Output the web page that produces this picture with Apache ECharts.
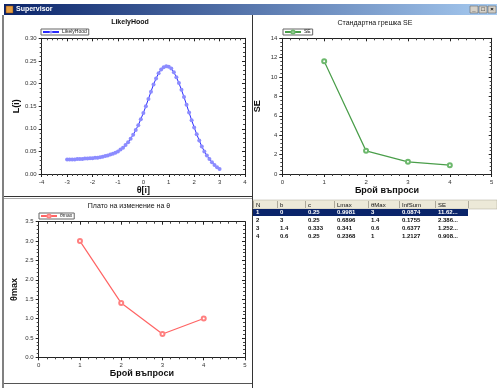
<!DOCTYPE html>
<html>
<head>
<meta charset="utf-8">
<script src="https://cdn.jsdelivr.net/npm/echarts@6/dist/echarts.min.js"></script>
<style>
  html, body { margin: 0; padding: 0; background: #fff; }
  #main { width: 497px; height: 388px; }
</style>
</head>
<body>
<div id="main"></div>
<script>
// LikelyHood curve: theta and L(i)
const thetaVals = [-3.0, -2.9, -2.8, -2.7, -2.6, -2.5, -2.4, -2.3, -2.2, -2.1,
  -2.0, -1.9, -1.8, -1.7, -1.6, -1.5, -1.4, -1.3, -1.2, -1.1,
  -1.0, -0.9, -0.8, -0.7, -0.6, -0.5, -0.4, -0.3, -0.2, -0.1,
  0.0, 0.1, 0.2, 0.3, 0.4, 0.5, 0.6, 0.7, 0.8, 0.9,
  1.0, 1.1, 1.2, 1.3, 1.4, 1.5, 1.6, 1.7, 1.8, 1.9,
  2.0, 2.1, 2.2, 2.3, 2.4, 2.5, 2.6, 2.7, 2.8, 2.9, 3.0];
const likelyVals = [0.032, 0.032, 0.032, 0.032, 0.033, 0.033, 0.033, 0.034, 0.034, 0.035,
  0.035, 0.036, 0.036, 0.037, 0.038, 0.040, 0.041, 0.043, 0.045, 0.047,
  0.050, 0.054, 0.058, 0.064, 0.070, 0.078, 0.087, 0.097, 0.108, 0.121,
  0.135, 0.150, 0.166, 0.182, 0.198, 0.211, 0.223, 0.231, 0.236, 0.238,
  0.237, 0.233, 0.225, 0.214, 0.201, 0.186, 0.170, 0.153, 0.136, 0.119,
  0.103, 0.088, 0.074, 0.061, 0.050, 0.041, 0.033, 0.026, 0.020, 0.015, 0.011];

// questions asked
const questions = [1, 2, 3, 4];
const seVals = [11.62, 2.386, 1.252, 0.908];
const thetaMaxVals = [3, 1.4, 0.6, 1];

// table
const tableCols = ['N', 'b', 'c', 'Lmax', 'θMax', 'InfSum', 'SE'];
const tableRows = [
  ['1', '0', '0.25', '0.9981', '3', '0.0874', '11.62...'],
  ['2', '3', '0.25', '0.6896', '1.4', '0.1755', '2.386...'],
  ['3', '1.4', '0.333', '0.341', '0.6', '0.6377', '1.252...'],
  ['4', '0.6', '0.25', '0.2368', '1', '1.2127', '0.908...']
];

const FONT = 'Liberation Sans, Arial, sans-serif';
const chart = echarts.init(document.getElementById('main'));

function zip(a, b) {
  return a.map((v, i) => [v, b[i]]);
}

const lineCol = '#222';

// bottom/left axes with labels, top/right copies with ticks only
function xAxes(grid, min, max, name) {
  const base = {
    gridIndex: grid, type: 'value', min: min, max: max, interval: 1,
    splitLine: { show: false },
    axisLine: { onZero: false, lineStyle: { color: lineCol, width: 1 } },
    axisTick: { length: 3, lineStyle: { color: lineCol } },
    minorTick: { show: true, splitNumber: 5, length: 2, lineStyle: { color: '#444' } }
  };
  return [
    Object.assign({}, base, {
      position: 'bottom',
      name: name, nameLocation: 'middle', nameGap: 11,
      nameTextStyle: { fontFamily: FONT, fontSize: 9, fontWeight: 'bold', color: '#111' },
      axisLabel: { fontFamily: FONT, fontSize: 6, color: '#333', margin: 5 }
    }),
    Object.assign({}, base, {
      position: 'top', axisLabel: { show: false },
      axisTick: { inside: true, length: 3, lineStyle: { color: lineCol } },
      minorTick: { show: true, splitNumber: 5, length: 2, lineStyle: { color: '#444' } }
    })
  ];
}

function yAxes(grid, min, max, interval, name, fmt) {
  const base = {
    gridIndex: grid, type: 'value', min: min, max: max, interval: interval,
    splitLine: { show: false },
    axisLine: { show: true, onZero: false, lineStyle: { color: lineCol, width: 1 } },
    axisTick: { show: true, length: 3, lineStyle: { color: lineCol } },
    minorTick: { show: true, splitNumber: 5, length: 2, lineStyle: { color: '#444' } }
  };
  return [
    Object.assign({}, base, {
      position: 'left',
      name: name, nameLocation: 'middle', nameGap: 20, nameRotate: 90,
      nameTextStyle: { fontFamily: FONT, fontSize: 9, fontWeight: 'bold', color: '#111' },
      axisLabel: { fontFamily: FONT, fontSize: 6, color: '#333', margin: 5, formatter: fmt }
    }),
    Object.assign({}, base, {
      position: 'right', axisLabel: { show: false },
      axisTick: { show: true, inside: true, length: 3, lineStyle: { color: lineCol } },
      minorTick: { show: true, splitNumber: 5, length: 2, lineStyle: { color: '#444' } }
    })
  ];
}

function legendBox(name, left, top) {
  return {
    data: [name], left: left, top: top,
    orient: 'horizontal', padding: [0, 2, 0, 1],
    borderColor: '#666', borderWidth: 1, borderRadius: 0,
    itemWidth: 16, itemHeight: 4, itemGap: 2,
    textStyle: { fontFamily: FONT, fontSize: 5, lineHeight: 6, color: '#222', padding: [0, 0, 0, -2] }
  };
}

function txt(text, x, y, size, weight, color, align) {
  return {
    type: 'text', x: x, y: y, silent: true,
    style: {
      text: text, fill: color || '#111', align: align || 'left', verticalAlign: 'middle',
      font: (weight || 'normal') + ' ' + size + 'px ' + FONT
    }
  };
}

// window chrome + table
const graphics = [];
graphics.push({ type: 'rect', shape: { x: 4, y: 4, width: 493, height: 11 },
  style: { fill: new echarts.graphic.LinearGradient(0, 0, 1, 0, [
    { offset: 0, color: '#0a246a' }, { offset: 1, color: '#a6caf0' }]) } });
graphics.push({ type: 'rect', shape: { x: 6, y: 6, width: 7, height: 7 },
  style: { fill: '#e8a040', stroke: '#804010', lineWidth: 0.5 } });
graphics.push(txt('Supervisor', 16, 9.5, 7, 'bold', '#fff'));
[470, 479, 488].forEach(function (bx, i) {
  graphics.push({ type: 'rect', shape: { x: bx, y: 6, width: 8, height: 7 },
    style: { fill: '#d4d0c8', stroke: '#555', lineWidth: 0.5 } });
  graphics.push(txt(['_', '□', '×'][i], bx + 4, 9.5, 6, 'bold', '#000', 'center'));
});
// frame and panel separators
graphics.push({ type: 'rect', shape: { x: 2, y: 15, width: 2, height: 373 }, style: { fill: '#808080' } });
graphics.push({ type: 'line', shape: { x1: 252.5, y1: 15, x2: 252.5, y2: 388 }, style: { stroke: '#333', lineWidth: 1 } });
graphics.push({ type: 'line', shape: { x1: 4, y1: 196.5, x2: 252, y2: 196.5 }, style: { stroke: '#333', lineWidth: 1 } });
graphics.push({ type: 'line', shape: { x1: 4, y1: 198.5, x2: 252, y2: 198.5 }, style: { stroke: '#aaa', lineWidth: 1 } });
graphics.push({ type: 'line', shape: { x1: 4, y1: 383.5, x2: 252, y2: 383.5 }, style: { stroke: '#555', lineWidth: 1 } });

// table
const colX = [253, 277, 305, 334, 368, 399, 435, 468];
graphics.push({ type: 'rect', shape: { x: 253, y: 200, width: 244, height: 9 },
  style: { fill: '#ece9d8', stroke: '#aca899', lineWidth: 0.5 } });
colX.forEach(function (cx) {
  graphics.push({ type: 'line', shape: { x1: cx + 0.5, y1: 201, x2: cx + 0.5, y2: 208 },
    style: { stroke: '#aca899', lineWidth: 1 } });
});
tableCols.forEach(function (c, i) {
  graphics.push(txt(c, colX[i] + 3, 205, 6, 'normal', '#111'));
});
graphics.push({ type: 'rect', shape: { x: 253, y: 209, width: 215, height: 7 },
  style: { fill: '#0a246a' } });
tableRows.forEach(function (row, r) {
  const y = 212.5 + r * 8;
  row.forEach(function (cell, i) {
    graphics.push(txt(cell, colX[i] + 3, y, 6, 'bold', r === 0 ? '#fff' : '#111'));
  });
});

// panel titles
graphics.push(txt('LikelyHood', 130, 22.5, 7, 'bold', '#111', 'center'));
graphics.push(txt('Стандартна грешка SE', 375, 23, 7, 'normal', '#111', 'center'));
graphics.push(txt('Плато на изменение на θ', 129, 206, 7, 'normal', '#111', 'center'));

const option = {
  backgroundColor: '#fff',
  animation: false,
  grid: [
    { left: 41.7, top: 38.3, width: 203.3, height: 135.7 },
    { left: 282.3, top: 38.3, width: 209.4, height: 135.7 },
    { left: 38.7, top: 221.7, width: 206.3, height: 135.6 }
  ],
  legend: [
    legendBox('LikelyHood', 41, 29),
    legendBox('SE', 283, 29),
    legendBox('θmax', 39, 213)
  ],
  xAxis: [].concat(
    xAxes(0, -4, 4, 'θ[i]'),
    xAxes(1, 0, 5, 'Брой въпроси'),
    xAxes(2, 0, 5, 'Брой въпроси')
  ),
  yAxis: [].concat(
    yAxes(0, 0, 0.30, 0.05, 'L(i)', v => v.toFixed(2)),
    yAxes(1, 0, 14, 2, 'SE', v => String(v)),
    yAxes(2, 0, 3.5, 0.5, 'θmax', v => v.toFixed(1))
  ),
  series: [
    {
      name: 'LikelyHood', type: 'line', xAxisIndex: 0, yAxisIndex: 0,
      data: zip(thetaVals, likelyVals),
      symbol: 'circle', symbolSize: 4, showAllSymbol: true,
      lineStyle: { color: '#2a2aff', width: 1 },
      itemStyle: { color: '#8c8cff' }
    },
    {
      name: 'SE', type: 'line', xAxisIndex: 2, yAxisIndex: 2,
      data: zip(questions, seVals),
      symbol: 'emptyCircle', symbolSize: 4,
      lineStyle: { color: '#4a9e4a', width: 1.2 },
      itemStyle: { color: '#6cb86c', borderColor: '#4a9e4a', borderWidth: 1 }
    },
    {
      name: 'θmax', type: 'line', xAxisIndex: 4, yAxisIndex: 4,
      data: zip(questions, thetaMaxVals),
      symbol: 'emptyCircle', symbolSize: 4,
      lineStyle: { color: '#ff6464', width: 1.2 },
      itemStyle: { color: '#ff8080', borderColor: '#ff6464', borderWidth: 1 }
    }
  ],
  graphic: graphics
};
chart.setOption(option);
</script>
</body>
</html>
